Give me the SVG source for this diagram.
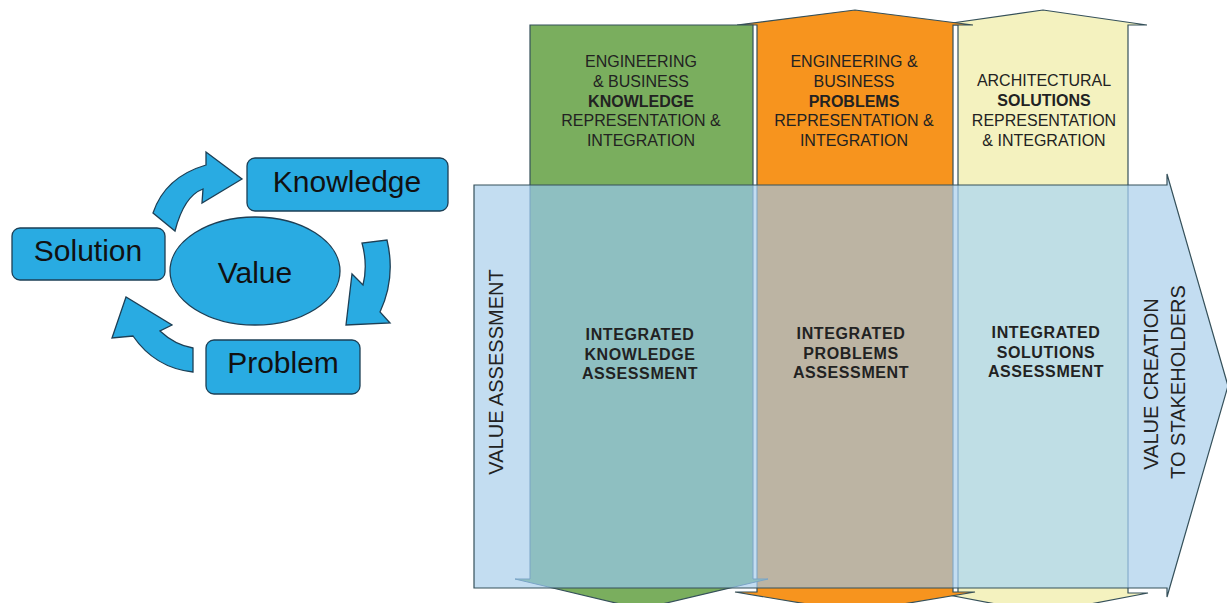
<svg xmlns="http://www.w3.org/2000/svg" xmlns:xlink="http://www.w3.org/1999/xlink" width="1227" height="603" viewBox="0 0 1227 603">
<style>
.cyc{fill:#29abe2;stroke:#1d3f55;stroke-width:1.3}
.cyt{font-family:"Liberation Sans",Arial,sans-serif;font-size:30px;fill:#111;text-anchor:middle}
.hd{font-family:"Liberation Sans",Arial,sans-serif;font-size:16px;fill:#222;text-anchor:middle}
.hd .b{font-weight:bold}
.mid{font-family:"Liberation Sans",Arial,sans-serif;font-size:16px;font-weight:bold;letter-spacing:0.6px;fill:#222;text-anchor:middle}
.vt{font-family:"Liberation Sans",Arial,sans-serif;font-size:20px;fill:#222;text-anchor:middle}
.edge{stroke:#35505a;stroke-width:1.2}
.inner{stroke:#7aa4c6;stroke-width:1}
</style>
<defs>
<path id="shGreen" d="M530,25 L753,25 L753,579 L768,579 L641,609 L515,579 L530,579 Z"/>
<path id="shOrange" d="M757,25 L737,25 L855,10 L973,25 L953,25 L953,592 L975,592 L855,612 L735,592 L757,592 Z"/>
<path id="shYellow" d="M958,25 L938,25 L1043,10 L1147,25 L1128,25 L1128,593 L1148,593 L1043,613 L938,593 L958,593 Z"/>
<path id="shBlue" d="M474,185 L1167,185 L1167,174 L1228,386 L1167,597 L1167,588 L474,588 Z"/>
<clipPath id="blueClip"><use xlink:href="#shBlue"/></clipPath>
</defs>

<g id="cycle-arrows">
<path class="cyc" d="M153,213 Q165,177 206,165 L206,152 L242,179 L202,203 L203,189 Q184,196 175,231 Z"/>
<path class="cyc" d="M362,243 Q368,265 363,285 L352,274 L346,325 L390,323 L380,312 Q396,278 387,240 Z"/>
<path class="cyc" d="M193,348 Q175,345 160,331 L172,325 L126,297 L112,338 L133,336 Q155,368 193,372 Z"/>
</g>
<g id="node-knowledge"><rect class="cyc" x="247" y="158" width="201" height="53" rx="8"/><text class="cyt" x="347" y="192">Knowledge</text></g>
<g id="node-solution"><rect class="cyc" x="12" y="228" width="153" height="52" rx="8"/><text class="cyt" x="88" y="261">Solution</text></g>
<g id="node-value"><ellipse class="cyc" cx="255" cy="271" rx="85" ry="54"/><text class="cyt" x="255" y="283">Value</text></g>
<g id="node-problem"><rect class="cyc" x="206" y="340" width="154" height="54" rx="8"/><text class="cyt" x="283" y="373">Problem</text></g>

<g id="col-solutions"><use xlink:href="#shYellow" fill="#f4f2bf" class="edge"/></g>
<g id="col-problems"><use xlink:href="#shOrange" fill="#f7941e" class="edge"/></g>
<g id="col-knowledge"><use xlink:href="#shGreen" fill="#7aae5e" class="edge"/></g>

<g id="value-arrow">
<use xlink:href="#shBlue" fill="#c3ddf1"/>
<g clip-path="url(#blueClip)">
<use xlink:href="#shYellow" fill="#bfdee5" class="inner"/>
<use xlink:href="#shOrange" fill="#bcb4a3" class="inner"/>
<use xlink:href="#shGreen" fill="#8ebfc1" class="inner"/>
</g>
<use xlink:href="#shBlue" fill="none" class="edge"/>
</g>

<g id="labels-top">
<text class="hd"><tspan x="641" y="67">ENGINEERING</tspan><tspan x="641" y="87">&amp; BUSINESS</tspan><tspan class="b" x="641" y="107">KNOWLEDGE</tspan><tspan x="641" y="126">REPRESENTATION &amp;</tspan><tspan x="641" y="146">INTEGRATION</tspan></text>
<text class="hd"><tspan x="854" y="67">ENGINEERING &amp;</tspan><tspan x="854" y="87">BUSINESS</tspan><tspan class="b" x="854" y="107">PROBLEMS</tspan><tspan x="854" y="126">REPRESENTATION &amp;</tspan><tspan x="854" y="146">INTEGRATION</tspan></text>
<text class="hd"><tspan x="1044" y="86">ARCHITECTURAL</tspan><tspan class="b" x="1044" y="106">SOLUTIONS</tspan><tspan x="1044" y="126">REPRESENTATION</tspan><tspan x="1044" y="146">&amp; INTEGRATION</tspan></text>
</g>
<g id="labels-mid">
<text class="mid"><tspan x="640" y="340">INTEGRATED</tspan><tspan x="640" y="360">KNOWLEDGE</tspan><tspan x="640" y="379">ASSESSMENT</tspan></text>
<text class="mid"><tspan x="851" y="339">INTEGRATED</tspan><tspan x="851" y="359">PROBLEMS</tspan><tspan x="851" y="378">ASSESSMENT</tspan></text>
<text class="mid"><tspan x="1046" y="338">INTEGRATED</tspan><tspan x="1046" y="358">SOLUTIONS</tspan><tspan x="1046" y="377">ASSESSMENT</tspan></text>
</g>
<g id="labels-vertical">
<text class="vt" transform="translate(503,372) rotate(-90)" x="0" y="0">VALUE ASSESSMENT</text>
<text class="vt" transform="translate(1158,384) rotate(-90)" x="0" y="0">VALUE CREATION</text>
<text class="vt" transform="translate(1185,382) rotate(-90)" x="0" y="0">TO STAKEHOLDERS</text>
</g>
</svg>
